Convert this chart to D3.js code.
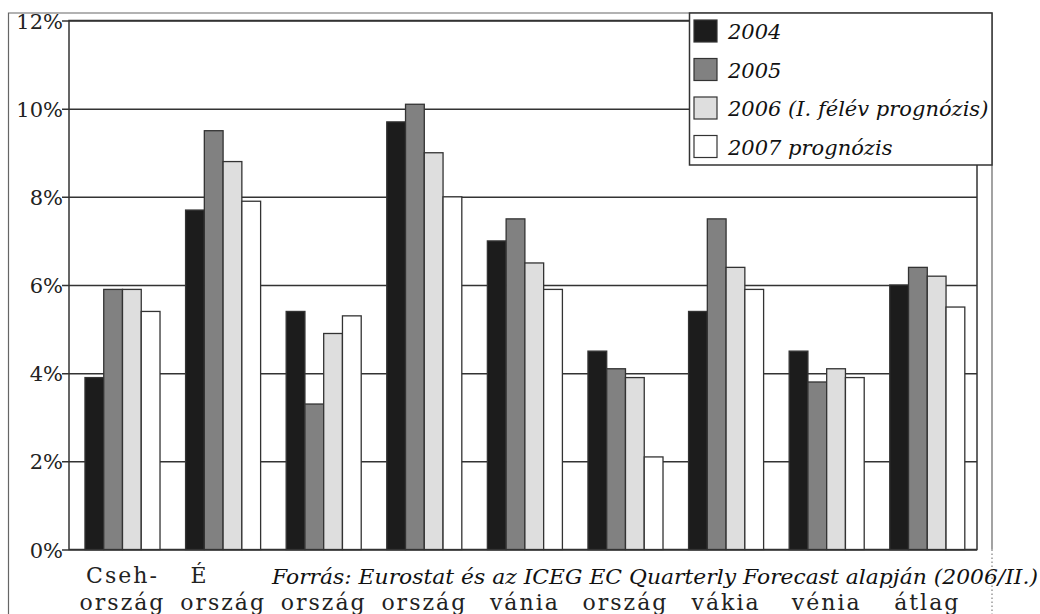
<!DOCTYPE html>
<html>
<head>
<meta charset="utf-8">
<title>Növekedés</title>
<style>
  body { margin: 0; background: #fff; }
  .tick text { font-family: "DejaVu Serif", serif; }
</style>
</head>
<body>
<script src="https://d3js.org/d3.v7.min.js"></script>
<script>
var catLine1 = ["Cseh-", "Észt-", "Lengyel-", "Lett-", "Lit-", "Magyar-", "Szlo-", "Szlo-", "Régió-"];
var catLine2 = ["ország", "ország", "ország", "ország", "vánia", "ország", "vákia", "vénia", "átlag"];
var seriesNames = ["2004", "2005", "2006 (I. félév prognózis)", "2007 prognózis"];
var v2004 = [3.9, 7.7, 5.4, 9.7, 7.0, 4.5, 5.4, 4.5, 6.0];
var v2005 = [5.9, 9.5, 3.3, 10.1, 7.5, 4.1, 7.5, 3.8, 6.4];
var v2006 = [5.9, 8.8, 4.9, 9.0, 6.5, 3.9, 6.4, 4.1, 6.2];
var v2007 = [5.4, 7.9, 5.3, 8.0, 5.9, 2.1, 5.9, 3.9, 5.5];
var yTicks = [0, 2, 4, 6, 8, 10, 12];
var source = "Forrás: Eurostat és az ICEG EC Quarterly Forecast alapján (2006/II.)";

var allSeries = [v2004, v2005, v2006, v2007];
var fills = ["#1c1c1c", "#818181", "#dedede", "#ffffff"];

var W = 1040, H = 614;
var pLeft = 69, pRight = 977, pTop = 20.5, pBottom = 549.5;
var srcLeft = 206;   // the source note box covers the first label row from here

var svg = d3.select("body").append("svg")
    .attr("width", W)
    .attr("height", H);

svg.append("clipPath").attr("id", "srcclip")
  .append("rect")
    .attr("x", 0).attr("y", 0)
    .attr("width", srcLeft).attr("height", H);

var x = d3.scaleBand()
    .domain(d3.range(catLine2.length))
    .range([pLeft, pRight])
    .paddingInner(0.254)
    .paddingOuter(0.14)
    .align(0.567);

var xs = d3.scaleBand()
    .domain(d3.range(seriesNames.length))
    .range([0, x.bandwidth()]);

var y = d3.scaleLinear()
    .domain([0, 12])
    .range([pBottom, pTop]);

// outer frame
svg.append("path")
    .attr("d", "M8.5," + H + "V13H992V" + pBottom)
    .attr("fill", "none")
    .attr("stroke", "#666")
    .attr("stroke-width", 1.2);
svg.append("line")
    .attr("x1", 992).attr("x2", 992)
    .attr("y1", pBottom).attr("y2", H)
    .attr("stroke", "#666")
    .attr("stroke-dasharray", "1.5,2.5");

// grid lines + y axis
var gY = svg.append("g")
    .attr("transform", "translate(" + pLeft + ",0)")
    .call(d3.axisLeft(y)
        .tickValues(yTicks)
        .tickSize(-(pRight - pLeft))
        .tickPadding(6)
        .tickFormat(function (d) { return d + "%"; }));
gY.select(".domain").remove();
gY.selectAll(".tick line")
    .attr("x1", -7)
    .attr("stroke", "#333")
    .attr("stroke-width", 1.5);
gY.selectAll(".tick text")
    .attr("font-size", 21)
    .attr("fill", "#222")
    .attr("dy", "0.36em");

// plot frame
svg.append("rect")
    .attr("x", pLeft).attr("y", pTop)
    .attr("width", pRight - pLeft).attr("height", pBottom - pTop)
    .attr("fill", "none")
    .attr("stroke", "#333")
    .attr("stroke-width", 1.5);

// bars
var groups = svg.selectAll(".grp")
    .data(catLine2)
    .enter().append("g")
    .attr("class", "grp")
    .attr("transform", function (d, i) { return "translate(" + x(i) + ",0)"; });

groups.selectAll("rect")
    .data(function (d, i) {
        return allSeries.map(function (s, k) { return { k: k, v: s[i] }; });
    })
    .enter().append("rect")
    .attr("x", function (d) { return xs(d.k); })
    .attr("y", function (d) { return y(d.v); })
    .attr("width", xs.bandwidth())
    .attr("height", function (d) { return y(0) - y(d.v); })
    .attr("fill", function (d) { return fills[d.k]; })
    .attr("stroke", "#333")
    .attr("stroke-width", 1.3);

// category labels: second row everywhere, first row only where the source note leaves room
var labelFont = "DejaVu Serif";
svg.append("g")
    .attr("clip-path", "url(#srcclip)")
  .selectAll("text")
    .data(catLine1.filter(function (d, i) { return x(i) < srcLeft; }))
    .enter().append("text")
    .attr("x", function (d, i) { return x(i) + x.bandwidth() / 2; })
    .attr("y", 583)
    .attr("text-anchor", "middle")
    .attr("font-family", labelFont)
    .attr("font-size", 22)
    .attr("letter-spacing", 2)
    .attr("fill", "#222")
    .text(function (d) { return d; });
groups.append("text")
    .attr("x", x.bandwidth() / 2)
    .attr("y", 610)
    .attr("text-anchor", "middle")
    .attr("font-family", labelFont)
    .attr("font-size", 22)
    .attr("letter-spacing", 2)
    .attr("fill", "#222")
    .text(function (d) { return d; });

// source note
svg.append("text")
    .attr("x", 272)
    .attr("y", 584)
    .attr("font-family", labelFont)
    .attr("font-style", "italic")
    .attr("font-size", 20)
    .attr("textLength", 766)
    .attr("lengthAdjust", "spacingAndGlyphs")
    .attr("fill", "#111")
    .text(source);

// legend
var lg = svg.append("g");
lg.append("rect")
    .attr("x", 689.5).attr("y", 13)
    .attr("width", 302.5).attr("height", 152)
    .attr("fill", "#fff")
    .attr("stroke", "#333")
    .attr("stroke-width", 1.5);
var items = lg.selectAll(".item")
    .data(seriesNames)
    .enter().append("g")
    .attr("transform", function (d, i) { return "translate(694," + (20 + i * 38.5) + ")"; });
items.append("rect")
    .attr("width", 23).attr("height", 22)
    .attr("fill", function (d, i) { return fills[i]; })
    .attr("stroke", "#333")
    .attr("stroke-width", 1.2);
items.append("text")
    .attr("x", 34)
    .attr("y", 19)
    .attr("font-family", labelFont)
    .attr("font-style", "italic")
    .attr("font-size", 21)
    .attr("fill", "#111")
    .text(function (d) { return d; });
</script>
</body>
</html>
